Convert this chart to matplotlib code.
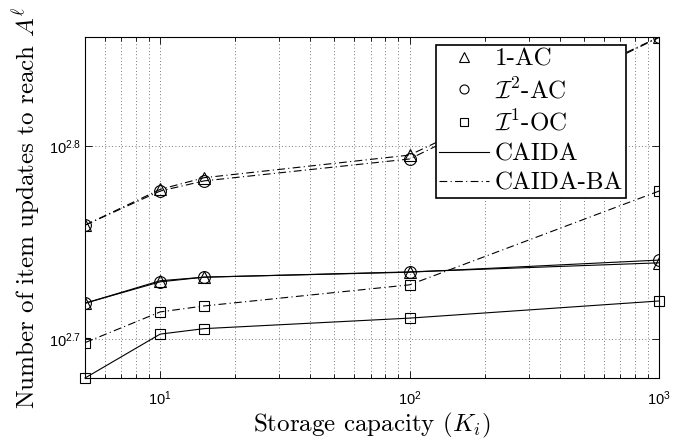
import numpy as np
import matplotlib
matplotlib.use('Agg')
import matplotlib.pyplot as plt
from matplotlib.lines import Line2D

plt.rcParams['font.family'] = 'cmr10'
plt.rcParams['mathtext.fontset'] = 'cm'
plt.rcParams['mathtext.rm'] = 'Liberation Sans'
plt.rcParams['mathtext.it'] = 'Liberation Sans'
plt.rcParams['mathtext.sf'] = 'Liberation Sans'
plt.rcParams['axes.unicode_minus'] = False

# storage capacity K_i
capacity = [5, 10, 15, 100, 1000]

# item updates to reach A^l
ba_1ac = [574.2, 599.2, 607.6, 624.2, 718.5]
ba_i2ac = [574.2, 598.0, 605.3, 621.3, 718.1]
ba_i1oc = [499.2, 517.8, 521.5, 534.8, 598.0]
caida_1ac = [523.2, 537.4, 539.7, 543.1, 549.0]
caida_i2ac = [523.2, 536.7, 539.7, 542.9, 550.8]
caida_i1oc = [478.6, 504.3, 507.6, 514.0, 524.6]

xticks = [10, 100, 1000]
xticklabels = ['$10^{1}$', '$10^{2}$', '$10^{3}$']
yticks = [10**2.7, 10**2.8]
yticklabels = ['$10^{2.7}$', '$10^{2.8}$']

dashdot = (0, (7, 3, 1, 3))
lw = 0.8
mk = dict(markerfacecolor='none', markeredgecolor='k', markeredgewidth=0.8)

fig = plt.figure(figsize=(6.83, 4.43), dpi=100)
ax = fig.add_axes([0.1245, 0.1467, 0.8404, 0.7698])

ax.plot(capacity, ba_1ac, color='k', lw=lw, ls=dashdot, marker='^', ms=8.5, **mk)
ax.plot(capacity, ba_i2ac, color='k', lw=lw, ls=dashdot, marker='o', ms=8.5, **mk)
ax.plot(capacity, ba_i1oc, color='k', lw=lw, ls=dashdot, marker='s', ms=6.5, **mk)
ax.plot(capacity, caida_1ac, color='k', lw=lw, ls='-', marker='^', ms=8.5, **mk)
ax.plot(capacity, caida_i2ac, color='k', lw=lw, ls='-', marker='o', ms=8.5, **mk)
ax.plot(capacity, caida_i1oc, color='k', lw=lw, ls='-', marker='s', ms=6.5, **mk, clip_on=False)

ax.set_xscale('log')
ax.set_yscale('log')
ax.set_xlim(5, 1000)
ax.set_ylim(478.6, 718.5)

ax.set_xticks(xticks)
ax.set_xticklabels(xticklabels)
ax.set_yticks(yticks)
ax.set_yticklabels(yticklabels)
ax.yaxis.set_minor_locator(matplotlib.ticker.NullLocator())
ax.xaxis.set_minor_locator(matplotlib.ticker.LogLocator(base=10, subs=np.arange(2, 10)))
ax.xaxis.set_minor_formatter(matplotlib.ticker.NullFormatter())
for t in ax.get_xticklabels() + ax.get_yticklabels():
    t.set_math_fontfamily('custom')
    t.set_fontsize(10.5)

ax.tick_params(which='both', direction='in', top=True, right=True, width=0.6)
ax.tick_params(which='major', length=5)
ax.tick_params(which='minor', length=3)
ax.tick_params(axis='x', pad=8)
ax.tick_params(axis='y', pad=3)

ax.grid(True, which='major', color='0.3', ls=(0, (1, 3)), lw=0.6)
ax.grid(True, which='minor', axis='x', color='0.3', ls=(0, (1, 3)), lw=0.6)
for s in ax.spines.values():
    s.set_linewidth(0.8)

ax.set_xlabel('Storage capacity $(K_i)$', fontsize=18, labelpad=2)
ax.set_ylabel(r'Number of item updates to reach $A^{\ell}$', fontsize=18, labelpad=4)

handles = [
    Line2D([], [], ls='none', marker='^', ms=7, **mk),
    Line2D([], [], ls='none', marker='o', ms=6.5, **mk),
    Line2D([], [], ls='none', marker='s', ms=5.5, **mk),
    Line2D([], [], color='k', lw=lw, ls='-'),
    Line2D([], [], color='k', lw=lw, ls=dashdot),
]
labels = ['1-AC', r'$\mathcal{I}^2$-AC', r'$\mathcal{I}^1$-OC', 'CAIDA', 'CAIDA-BA']
leg = ax.legend(handles, labels, loc='upper right', bbox_to_anchor=(0.9425, 0.9765),
                borderaxespad=0, fontsize=18, fancybox=False, framealpha=1,
                edgecolor='k', handlelength=2.0, handletextpad=0.25,
                labelspacing=0.28, borderpad=0.12)
leg.get_frame().set_linewidth(1.2)

fig.savefig('out.png', dpi=100)
